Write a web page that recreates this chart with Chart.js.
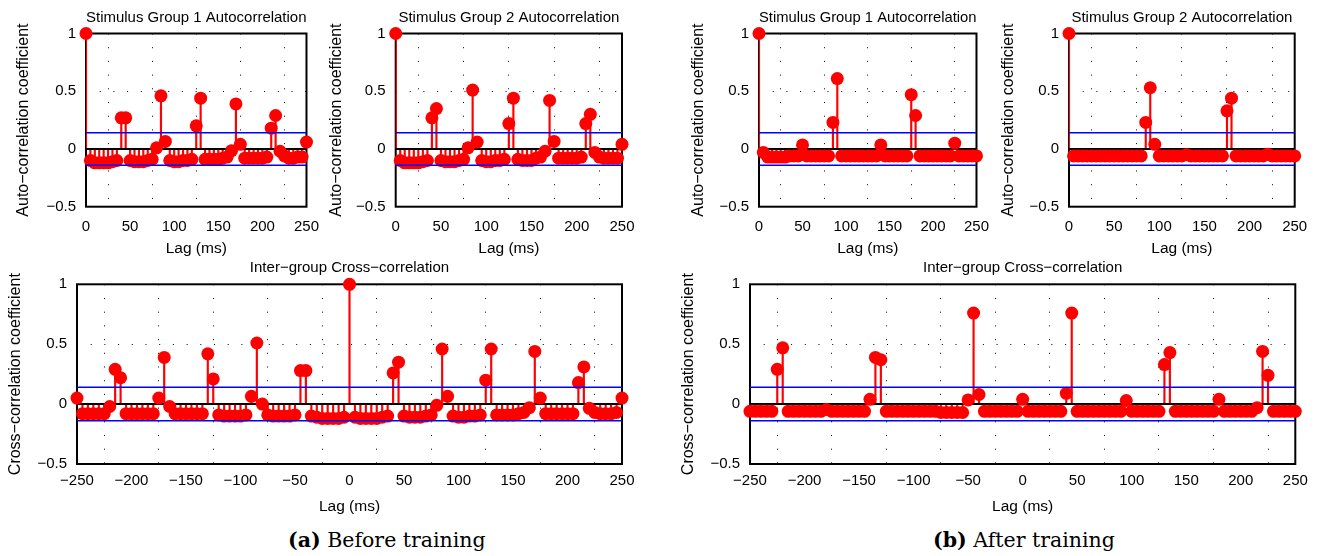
<!DOCTYPE html>
<html>
<head>
<meta charset="utf-8">
<script src="https://cdn.jsdelivr.net/npm/chart.js@4.4.1/dist/chart.umd.min.js"></script>
<style>
body { margin: 0; width: 1320px; height: 556px; background: #fff; position: relative; overflow: hidden; }
canvas { position: absolute; }
.cap { position: absolute; font-family: "DejaVu Serif", serif; font-size: 20.5px; line-height: 24px; white-space: nowrap; color: #000; }
</style>
</head>
<body>
<canvas id="c1"></canvas>
<canvas id="c2"></canvas>
<canvas id="c3"></canvas>
<canvas id="c4"></canvas>
<canvas id="c5"></canvas>
<canvas id="c6"></canvas>
<div class="cap" style="left:288px;top:528px"><b>(a)</b> Before training</div>
<div class="cap" style="left:933px;top:528px"><b>(b)</b> After training</div>
<script>
// lags (ms)
const lagsAuto = [0, 5, 10, 15, 20, 25, 30, 35, 40, 45, 50, 55, 60, 65, 70, 75, 80, 85, 90, 95,
  100, 105, 110, 115, 120, 125, 130, 135, 140, 145, 150, 155, 160, 165, 170, 175, 180, 185, 190, 195,
  200, 205, 210, 215, 220, 225, 230, 235, 240, 245, 250];
const lagsCross = [-250, -245, -240, -235, -230, -225, -220, -215, -210, -205, -200, -195, -190, -185, -180,
  -175, -170, -165, -160, -155, -150, -145, -140, -135, -130, -125, -120, -115, -110, -105, -100,
  -95, -90, -85, -80, -75, -70, -65, -60, -55, -50, -45, -40, -35, -30, -25, -20, -15, -10, -5,
  0, 5, 10, 15, 20, 25, 30, 35, 40, 45, 50, 55, 60, 65, 70, 75, 80, 85, 90, 95,
  100, 105, 110, 115, 120, 125, 130, 135, 140, 145, 150, 155, 160, 165, 170, 175, 180, 185, 190, 195,
  200, 205, 210, 215, 220, 225, 230, 235, 240, 245, 250];

// (a) before training
const beforeAuto1 = [1,
  -0.10, -0.12, -0.12, -0.12, -0.12, -0.11, -0.10,
  0.27, 0.27,
  -0.10, -0.11, -0.11, -0.11, -0.10, -0.09,
  0.01, 0.46, 0.065,
  -0.10, -0.11, -0.11, -0.10, -0.10, -0.09,
  0.20, 0.44,
  -0.09, -0.09, -0.09, -0.09, -0.08, -0.07,
  -0.015, 0.39, 0.04,
  -0.08, -0.08, -0.08, -0.08, -0.08, -0.07,
  0.18, 0.29, -0.02,
  -0.06, -0.08, -0.08, -0.07, -0.07,
  0.06];
const beforeAuto2 = [1,
  -0.10, -0.12, -0.12, -0.12, -0.12, -0.11, -0.10,
  0.27, 0.35,
  -0.10, -0.11, -0.11, -0.11, -0.10, -0.09,
  0.01, 0.51, 0.06,
  -0.10, -0.11, -0.11, -0.10, -0.10, -0.09,
  0.22, 0.44,
  -0.09, -0.10, -0.10, -0.10, -0.08, -0.07,
  -0.02, 0.42, 0.065,
  -0.08, -0.08, -0.08, -0.08, -0.08, -0.07,
  0.22, 0.30, -0.03,
  -0.07, -0.08, -0.08, -0.08, -0.08,
  0.04];
const beforeCross = [0.05,
  -0.08, -0.08, -0.08, -0.08, -0.08,
  -0.02, 0.29, 0.22,
  -0.08, -0.08, -0.08, -0.08, -0.08, -0.08,
  0.05, 0.39, -0.02,
  -0.08, -0.08, -0.08, -0.08, -0.08, -0.08,
  0.42, 0.21,
  -0.09, -0.10, -0.10, -0.10, -0.10, -0.09,
  0.065, 0.51, 0.0,
  -0.09, -0.10, -0.10, -0.10, -0.10, -0.09,
  0.28, 0.28,
  -0.10, -0.11, -0.12, -0.12, -0.12, -0.12, -0.11,
  1,
  -0.11, -0.12, -0.12, -0.12, -0.12, -0.11, -0.10,
  0.26, 0.35,
  -0.10, -0.11, -0.11, -0.11, -0.10, -0.09,
  -0.01, 0.46, 0.065,
  -0.10, -0.11, -0.11, -0.10, -0.10, -0.09,
  0.20, 0.46,
  -0.09, -0.09, -0.09, -0.09, -0.08, -0.07,
  -0.03, 0.44, 0.05,
  -0.08, -0.08, -0.08, -0.08, -0.08, -0.08,
  0.18, 0.31, -0.035,
  -0.07, -0.08, -0.08, -0.08, -0.07,
  0.05];

// (b) after training
const afterAuto1 = [1, -0.03,
  -0.07, -0.07, -0.07, -0.07, -0.07, -0.06, -0.06, -0.06,
  0.035,
  -0.06, -0.06, -0.06, -0.06, -0.06, -0.06,
  0.23, 0.61,
  -0.06, -0.06, -0.06, -0.06, -0.06, -0.06, -0.06, -0.06, -0.06,
  0.035,
  -0.06, -0.06, -0.06, -0.06, -0.06, -0.06,
  0.47, 0.29,
  -0.06, -0.06, -0.06, -0.06, -0.06, -0.06, -0.06, -0.06,
  0.05,
  -0.06, -0.06, -0.06, -0.06, -0.06];
const afterAuto2 = [1,
  -0.06, -0.06, -0.06, -0.06, -0.06, -0.06, -0.06, -0.06, -0.06, -0.06, -0.06, -0.06, -0.06, -0.06, -0.06, -0.06,
  0.23, 0.53, 0.04,
  -0.06, -0.06, -0.06, -0.06, -0.06, -0.06, -0.05, -0.06, -0.06, -0.06, -0.06, -0.06, -0.06, -0.06, -0.06,
  0.33, 0.44,
  -0.06, -0.06, -0.06, -0.06, -0.06, -0.06, -0.06, -0.045, -0.06, -0.06, -0.06, -0.06, -0.06, -0.06];
const afterCross = [
  -0.06, -0.06, -0.06, -0.06, -0.06,
  0.29, 0.47,
  -0.06, -0.06, -0.06, -0.06, -0.06, -0.06, -0.06, -0.045, -0.06, -0.06, -0.06, -0.06, -0.06, -0.06, -0.06,
  0.04, 0.39, 0.37,
  -0.06, -0.06, -0.06, -0.06, -0.06, -0.06, -0.06, -0.06, -0.06, -0.06, -0.07, -0.07, -0.07, -0.07, -0.07,
  0.035, 0.76, 0.08,
  -0.06, -0.06, -0.06, -0.06, -0.06, -0.06, -0.06,
  0.04,
  -0.06, -0.06, -0.06, -0.06, -0.06, -0.06, -0.06,
  0.09, 0.76,
  -0.06, -0.06, -0.06, -0.06, -0.06, -0.06, -0.06, -0.06, -0.06,
  0.03,
  -0.06, -0.06, -0.06, -0.06, -0.06, -0.06,
  0.33, 0.43,
  -0.06, -0.06, -0.06, -0.06, -0.06, -0.06, -0.06, -0.06,
  0.04,
  -0.06, -0.06, -0.06, -0.06, -0.06, -0.06, -0.03,
  0.44, 0.24,
  -0.06, -0.06, -0.06, -0.06, -0.06];

const confLevel = 0.14;
const yTicks = [-0.5, 0, 0.5, 1];

const FONT = '"Liberation Sans", Arial, sans-serif';
const minus = v => String(v).replace('-', '\u2212');

// box behind the data, like matlab axes
const frame = {
  id: 'frame',
  beforeDatasetsDraw(chart) {
    const a = chart.chartArea, c = chart.ctx;
    c.save();
    c.strokeStyle = '#000';
    c.lineWidth = 2;
    c.strokeRect(a.left, a.top, a.right - a.left, a.bottom - a.top);
    c.restore();
  }
};

function stemChart(id, box, plot, o) {
  const cv = document.getElementById(id);
  cv.width = box.w;
  cv.height = box.h;
  cv.style.left = box.x + 'px';
  cv.style.top = box.y + 'px';
  const pts = o.lags.map((x, i) => ({ x: x, y: o.vals[i] }));
  const xmin = o.lags[0], xmax = o.lags[o.lags.length - 1];
  return new Chart(cv, {
    type: 'scatter',
    data: {
      datasets: [
        { type: 'bar', data: pts, backgroundColor: '#ff0000', barThickness: 1.5, borderWidth: 0, order: 4 },
        { type: 'line', data: [{ x: xmin, y: 0 }, { x: xmax, y: 0 }], borderColor: '#000', borderWidth: 2, pointRadius: 0, order: 3 },
        { type: 'scatter', data: pts, backgroundColor: '#ff0000', borderColor: '#ff0000', borderWidth: 0, pointRadius: 6.5, clip: false, order: 2 },
        { type: 'line', data: [{ x: xmin, y: confLevel }, { x: xmax, y: confLevel }], borderColor: '#0000ff', borderWidth: 1.5, pointRadius: 0, order: 1 },
        { type: 'line', data: [{ x: xmin, y: -confLevel }, { x: xmax, y: -confLevel }], borderColor: '#0000ff', borderWidth: 1.5, pointRadius: 0, order: 1 }
      ]
    },
    options: {
      responsive: false,
      animation: false,
      devicePixelRatio: 1,
      layout: { padding: { left: 0, top: 0, bottom: 0, right: box.x + box.w - plot.r } },
      plugins: {
        legend: { display: false },
        tooltip: { enabled: false },
        title: {
          display: true, text: o.title, fullSize: false, color: '#000',
          font: { family: FONT, size: 15, weight: 'normal' },
          padding: { top: o.tTop, bottom: plot.t - box.y - o.tTop - 18 }
        }
      },
      scales: {
        x: {
          type: 'linear', min: xmin, max: xmax, offset: false,
          afterFit: s => { s.height = box.y + box.h - plot.b; },
          ticks: { stepSize: 50, color: '#000', font: { family: FONT, size: 15 }, padding: o.xPad, maxRotation: 0, callback: minus },
          grid: { color: '#000', lineWidth: 1, drawTicks: false },
          border: { display: false, dash: [1, 12.7] },
          title: { display: true, text: 'Lag (ms)', color: '#000', font: { family: FONT, size: 15.5 }, padding: { top: 0, bottom: o.xtPad } }
        },
        y: {
          min: -0.5, max: 1,
          afterFit: s => { s.width = plot.l - box.x; },
          afterBuildTicks: s => { s.ticks = yTicks.map(v => ({ value: v })); },
          ticks: { color: '#000', font: { family: FONT, size: 15 }, padding: 10, callback: minus },
          grid: { color: '#000', lineWidth: 1, drawTicks: false },
          border: { display: false, dash: [1, 12.7] },
          title: { display: true, text: o.ylabel, color: '#000', font: { family: FONT, size: 16 }, padding: { top: o.ytPad, bottom: 0 } }
        }
      }
    },
    plugins: [frame]
  });
}

const autoLabel = 'Auto\u2212correlation coefficient';
const crossLabel = 'Cross\u2212correlation coefficient';
const crossTitle = 'Inter\u2212group Cross\u2212correlation';

stemChart('c1', { x: 0, y: 0, w: 330, h: 262 }, { l: 86, r: 312, t: 33.5, b: 206.7 },
  { lags: lagsAuto, vals: beforeAuto1, title: 'Stimulus Group 1 Autocorrelation', ylabel: autoLabel, tTop: 8.5, xPad: 11, xtPad: 3.7, ytPad: 14.4 });
stemChart('c2', { x: 325, y: 0, w: 335, h: 262 }, { l: 395.7, r: 622, t: 33.5, b: 206.7 },
  { lags: lagsAuto, vals: beforeAuto2, title: 'Stimulus Group 2 Autocorrelation', ylabel: autoLabel, tTop: 8.5, xPad: 11, xtPad: 3.7, ytPad: 2.4 });
stemChart('c3', { x: 680, y: 0, w: 320, h: 262 }, { l: 759, r: 985, t: 33.5, b: 206.7 },
  { lags: lagsAuto, vals: afterAuto1, title: 'Stimulus Group 1 Autocorrelation', ylabel: autoLabel, tTop: 8.5, xPad: 11, xtPad: 3.7, ytPad: 9.4 });
stemChart('c4', { x: 995, y: 0, w: 325, h: 262 }, { l: 1069, r: 1294.7, t: 33.5, b: 206.7 },
  { lags: lagsAuto, vals: afterAuto2, title: 'Stimulus Group 2 Autocorrelation', ylabel: autoLabel, tTop: 8.5, xPad: 11, xtPad: 3.7, ytPad: 4.4 });
stemChart('c5', { x: 0, y: 255, w: 660, h: 265 }, { l: 77, r: 622, t: 284.3, b: 464 },
  { lags: lagsCross, vals: beforeCross, title: crossTitle, ylabel: crossLabel, tTop: 4.3, xPad: 8, xtPad: 4, ytPad: 6.4 });
stemChart('c6', { x: 675, y: 255, w: 645, h: 265 }, { l: 750, r: 1295.3, t: 284.3, b: 464 },
  { lags: lagsCross, vals: afterCross, title: crossTitle, ylabel: crossLabel, tTop: 4.3, xPad: 8, xtPad: 4, ytPad: 4.4 });
</script>
</body>
</html>
